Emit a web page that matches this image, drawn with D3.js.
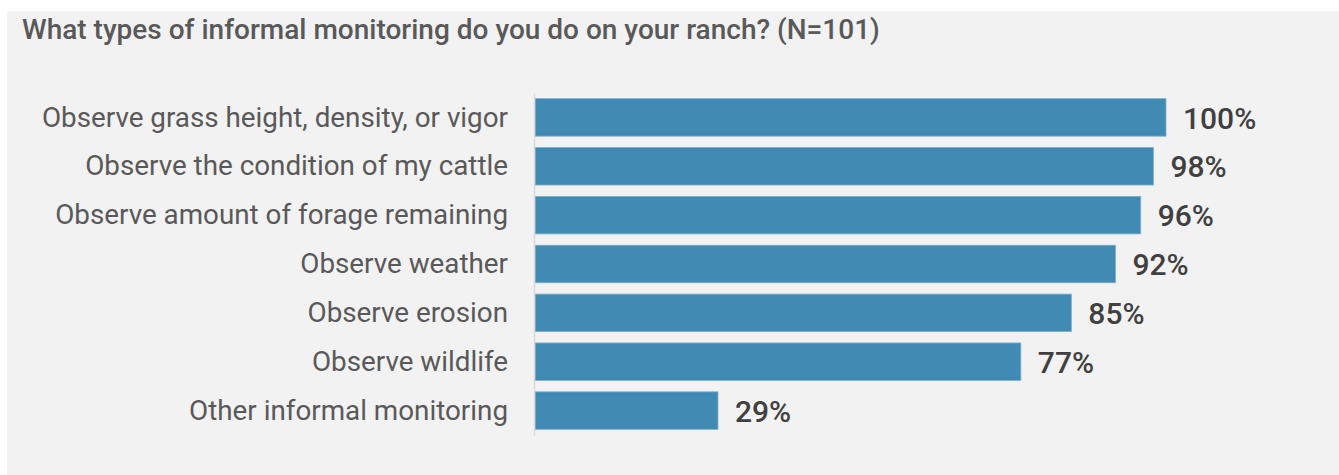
<!DOCTYPE html>
<html>
<head>
<meta charset="utf-8">
<script src="https://cdn.jsdelivr.net/npm/d3@7"></script>
<style>
  html, body { margin: 0; padding: 0; background: #ffffff; }
  svg { display: block; }
</style>
</head>
<body>
<svg id="chart" width="1339" height="475"></svg>
<script>
const titleText = "What types of informal monitoring do you do on your ranch? (N=101)";
const categories = [
  "Observe grass height, density, or vigor",
  "Observe the condition of my cattle",
  "Observe amount of forage remaining",
  "Observe weather",
  "Observe erosion",
  "Observe wildlife",
  "Other informal monitoring"
];
const values = [100, 98, 96, 92, 85, 77, 29];

const svg = d3.select("#chart");
const W = 1339, H = 475;

svg.append("rect")
  .attr("x", 7).attr("y", 11)
  .attr("width", W - 7).attr("height", H - 11)
  .attr("fill", "#f2f2f2");

svg.append("text")
  .attr("x", 22).attr("y", 39)
  .attr("font-family", "Roboto, sans-serif")
  .attr("font-weight", 500)
  .attr("font-size", 28)
  .attr("fill", "#595959")
  .text(titleText);

const x = d3.scaleLinear().domain([0, 100]).range([535, 1166]);
const y = d3.scaleBand().domain(categories).range([93, 435]).paddingInner(0.232).paddingOuter(0.116);

const g = svg.append("g");

g.selectAll("rect.bar")
  .data(values)
  .join("rect")
  .attr("class", "bar")
  .attr("x", x(0))
  .attr("y", (d, i) => y(categories[i]))
  .attr("width", d => x(d) - x(0))
  .attr("height", y.bandwidth())
  .attr("fill", "#418ab3")
  .attr("stroke", "#7fb0cd")
  .attr("stroke-width", 0.8);

// category axis
const yAxis = d3.axisLeft(y).tickSize(0).tickPadding(26);
const ag = svg.append("g").attr("transform", `translate(${x(0) - 1},0)`).call(yAxis);
ag.select(".domain").attr("stroke", "#d9d9d9").attr("stroke-width", 1.5);
ag.selectAll("text")
  .attr("font-family", "Roboto, sans-serif")
  .attr("font-size", 27.8)
  .attr("fill", "#595959")
  .attr("dy", "0.33em");

// value labels
g.selectAll("text.val")
  .data(values)
  .join("text")
  .attr("class", "val")
  .attr("x", d => x(d) + 17)
  .attr("y", (d, i) => y(categories[i]) + y.bandwidth() / 2)
  .attr("dy", "0.37em")
  .attr("font-family", "Roboto, sans-serif")
  .attr("font-weight", 500)
  .attr("font-size", 30)
  .attr("fill", "#404040")
  .text(d => d + "%");
</script>
</body>
</html>
